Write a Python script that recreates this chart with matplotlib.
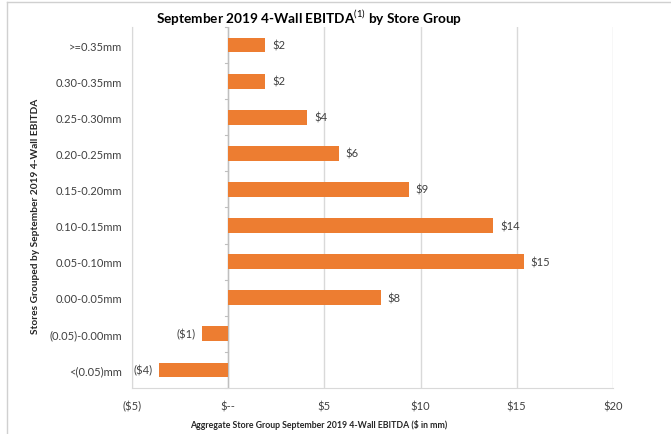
import matplotlib.pyplot as plt
from matplotlib.lines import Line2D

plt.rcParams['font.family'] = ['Lato', 'DejaVu Sans']
plt.rcParams['mathtext.fontset'] = 'custom'
plt.rcParams['mathtext.rm'] = 'Lato'
plt.rcParams['mathtext.bf'] = 'Lato:bold'

# store groups, bottom to top
groups = ['<(0.05)mm', '(0.05)-0.00mm', '0.00-0.05mm', '0.05-0.10mm', '0.10-0.15mm',
          '0.15-0.20mm', '0.20-0.25mm', '0.25-0.30mm', '0.30-0.35mm', '>=0.35mm']
ebitda = [-3.58, -1.35, 7.93, 15.36, 13.77, 9.39, 5.74, 4.10, 1.93, 1.93]

xticks = [-5, 0, 5, 10, 15, 20]
xtick_labels = ['($5)', '$--', '$5', '$10', '$15', '$20']


def money(v):
    if v < 0:
        return '(${:.0f})'.format(-v)
    return '${:.0f}'.format(v)


fig = plt.figure(figsize=(6.71, 4.35), dpi=100)
ax = fig.add_axes([0.1967, 0.1057, 0.7167, 0.83])

orange = '#ED7D31'
grid = '#D9D9D9'
txt = '#404040'

pos = list(range(len(groups)))
ax.barh(pos, ebitda, height=0.41, color=orange, zorder=3)

for y, v in zip(pos, ebitda):
    if v < 0:
        ax.text(v - 0.33, y, money(v), ha='right', va='center', fontsize=8, color=txt)
    else:
        ax.text(v + 0.36, y, money(v), ha='left', va='center', fontsize=8, color=txt)

ax.set_xlim(-5, 20)
ax.set_ylim(-0.5, len(groups) - 0.5)
ax.set_xticks(xticks)
ax.set_xticklabels(xtick_labels, fontsize=8, color=txt)
ax.set_yticks(pos)
ax.set_yticklabels(groups, fontsize=8, color=txt)
ax.tick_params(axis='both', length=0)
ax.tick_params(axis='y', pad=7)
ax.tick_params(axis='x', pad=9)

for x in xticks:
    ax.axvline(x, color=grid, lw=1, zorder=1)

# category axis at zero with boundary ticks
ax.axvline(0, color='#BFBFBF', lw=1, zorder=2)
for b in range(len(groups) + 1):
    ax.plot([-0.18, 0], [b - 0.5, b - 0.5], color='#BFBFBF', lw=0.8, zorder=2, clip_on=False)

for s in ['top', 'right']:
    ax.spines[s].set_visible(False)
ax.spines['left'].set_color(grid)
ax.spines['bottom'].set_color(grid)

fig.text(319 / 671, 1 - 425 / 435,
         'Aggregate Store Group September 2019 4-Wall EBITDA ($ in mm)',
         ha='center', va='center', fontsize=6.3, fontweight='bold', color='#262626')
fig.text(36 / 671, 1 - 216 / 435, 'Stores Grouped by September 2019 4-Wall EBITDA',
         ha='center', va='center', rotation=90, fontsize=7.3, fontweight='bold',
         color='#262626')

fig.text(309 / 671, 1 - 18 / 435, 'September 2019 4-Wall EBITDA$^{(1)}$ by Store Group',
         ha='center', va='center', fontsize=9.8, fontweight='bold', color='#000000')

# chart border
fig.add_artist(Line2D([7 / 671, 1], [1 - 3 / 435, 1 - 3 / 435], color='#D0D0D0', lw=1))
fig.add_artist(Line2D([7 / 671, 7 / 671], [0, 1 - 3 / 435], color='#D0D0D0', lw=1))

fig.savefig('out.png', dpi=100)
